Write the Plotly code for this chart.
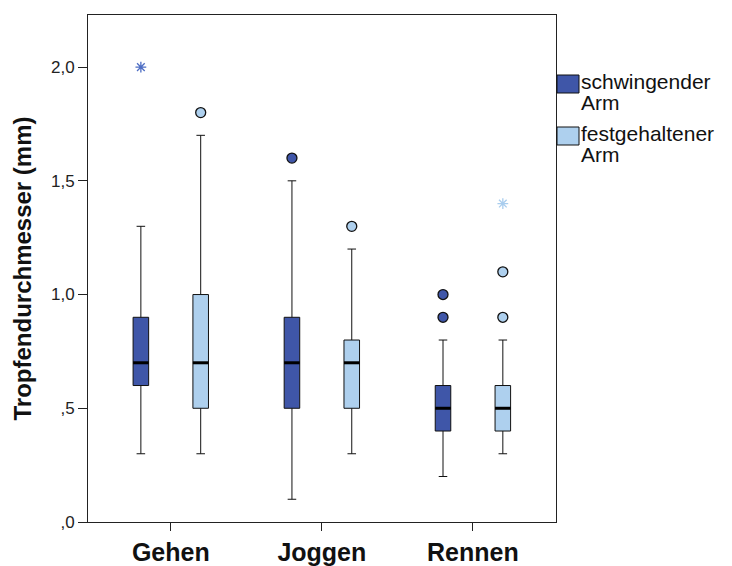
import plotly.graph_objects as go

# ---- data ----
categories = ["Gehen", "Joggen", "Rennen"]
series_names = ["schwingender Arm", "festgehaltener Arm"]

# schwingender Arm
swing_low = [0.3, 0.1, 0.2]
swing_q1 = [0.6, 0.5, 0.4]
swing_med = [0.7, 0.7, 0.5]
swing_q3 = [0.9, 0.9, 0.6]
swing_high = [1.3, 1.5, 0.8]
swing_outliers = [[], [1.6], [0.9, 1.0]]
swing_extremes = [[2.0], [], []]

# festgehaltener Arm
fixed_low = [0.3, 0.3, 0.3]
fixed_q1 = [0.5, 0.5, 0.4]
fixed_med = [0.7, 0.7, 0.5]
fixed_q3 = [1.0, 0.8, 0.6]
fixed_high = [1.7, 1.2, 0.8]
fixed_outliers = [[1.8], [1.3], [0.9, 1.1]]
fixed_extremes = [[], [], [1.4]]

y_tickvals = [0.0, 0.5, 1.0, 1.5, 2.0]
y_ticktext = [",0", ",5", "1,0", "1,5", "2,0"]

# ---- style ----
fill_colors = ["#3F56A8", "#AED0EE"]
star_colors = ["#4E6EC4", "#A9CDEE"]
offsets = [-0.198, 0.198]
box_w = 0.103

series = [
    (swing_low, swing_q1, swing_med, swing_q3, swing_high, swing_outliers, swing_extremes),
    (fixed_low, fixed_q1, fixed_med, fixed_q3, fixed_high, fixed_outliers, fixed_extremes),
]

fig = go.Figure()

for s, (lo, q1, med, q3, hi, outl, extr) in enumerate(series):
    pos = [i + offsets[s] for i in range(len(categories))]
    fig.add_trace(go.Box(
        x=pos, q1=q1, median=med, q3=q3, lowerfence=lo, upperfence=hi,
        width=box_w, whiskerwidth=0.55,
        fillcolor=fill_colors[s], line=dict(color="#111111", width=1),
        boxpoints=False, showlegend=False, name=series_names[s],
    ))
    # thick median lines
    mx, my = [], []
    for p, m in zip(pos, med):
        mx += [p - box_w / 2, p + box_w / 2, None]
        my += [m, m, None]
    fig.add_trace(go.Scatter(x=mx, y=my, mode="lines",
                             line=dict(color="black", width=3),
                             showlegend=False, hoverinfo="skip"))
    # outliers (circles)
    ox, oy = [], []
    for p, vals in zip(pos, outl):
        for v in vals:
            ox.append(p); oy.append(v)
    fig.add_trace(go.Scatter(x=ox, y=oy, mode="markers",
                             marker=dict(symbol="circle", size=10, color=fill_colors[s],
                                         line=dict(color="#111111", width=1.3)),
                             showlegend=False))
    # extremes (stars)
    ex, ey = [], []
    for p, vals in zip(pos, extr):
        for v in vals:
            ex.append(p); ey.append(v)
    fig.add_trace(go.Scatter(x=ex, y=ey, mode="markers",
                             marker=dict(symbol="asterisk-open", size=9, color=star_colors[s],
                                         line=dict(color=star_colors[s], width=1.3)),
                             showlegend=False))

# ---- layout geometry (screen pixels; page body has an 8px margin) ----
page_off = 8
plot_top, plot_bottom, plot_left, plot_right = 15, 522, 88, 556
ph = plot_bottom - plot_top
pw = plot_right - plot_left

def py(yp):
    return (plot_bottom - yp) / ph

def px(xp):
    return (xp - plot_left) / pw

# ---- custom legend ----
legend_tops = [75, 127]   # pixel rows of legend squares
for s, name in enumerate(series_names):
    t = legend_tops[s]
    fig.add_shape(type="rect", xref="paper", yref="paper",
                  x0=px(557), x1=px(579), y0=py(t + 18), y1=py(t),
                  fillcolor=fill_colors[s], line=dict(color="#111111", width=1))
    words = name.split(" ")
    for k, w in enumerate(words):
        fig.add_annotation(xref="paper", yref="paper", x=px(579), y=py(t - 7 + k * 21),
                           text=w, showarrow=False, xanchor="left", yanchor="top",
                           font=dict(family="Liberation Sans, Arial", size=21, color="#111111"))

W, H = 732, 566
fig.update_layout(
    width=W, height=H,
    margin=dict(l=plot_left - page_off, r=W - (plot_right - page_off),
                t=plot_top - page_off, b=H - (plot_bottom - page_off),
                autoexpand=False),
    paper_bgcolor="white", plot_bgcolor="white",
    showlegend=False,
    font=dict(family="Liberation Sans, Arial", color="#111111"),
)
fig.update_xaxes(
    range=[-0.548, 2.55], tickvals=list(range(len(categories))),
    ticktext=["<b>%s</b>" % c for c in categories],
    ticks="outside", ticklen=8, tickcolor="#222222", automargin=False,
    tickfont=dict(size=25, family="Liberation Sans, Arial", color="#111111"),
    showline=True, linecolor="#222222", linewidth=1, mirror=True,
    showgrid=False, zeroline=False,
)
fig.update_yaxes(
    range=[0, 2.229], tickvals=y_tickvals, ticktext=y_ticktext,
    ticks="outside", ticklen=9, tickcolor="#222222", automargin=False,
    tickfont=dict(size=17, family="Liberation Sans, Arial", color="#222222"),
    showline=True, linecolor="#222222", linewidth=1, mirror=True,
    showgrid=False, zeroline=False,
    title=dict(text="<b>Tropfendurchmesser (mm)</b>", standoff=12,
               font=dict(size=24, family="Liberation Sans, Arial", color="#111111")),
)

fig.write_html("out.html")
